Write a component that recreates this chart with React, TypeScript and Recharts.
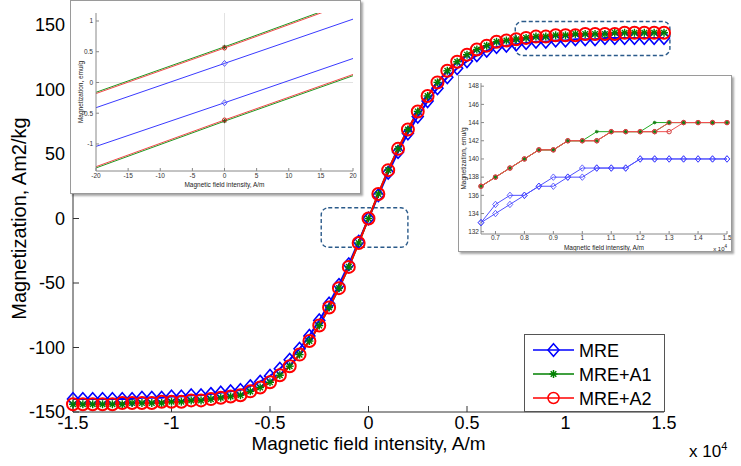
import React from "react";
import { LineChart, Line, XAxis, YAxis, ReferenceArea, ReferenceLine } from "recharts";

const FONT = "'Liberation Sans', Arial, Helvetica, sans-serif";
const BLUE = "#0000ff";
const GREEN = "#008000";
const RED = "#ff0000";

// main plot, field in units of 1e4 A/m
const field = [
  -1.5, -1.45, -1.4, -1.35, -1.3, -1.25, -1.2, -1.15, -1.1, -1.05, -1, -0.95, -0.9, -0.85, -0.8, -0.75,
  -0.7, -0.65, -0.6, -0.55, -0.5, -0.45, -0.4, -0.35, -0.3, -0.25, -0.2, -0.15, -0.1, -0.05, 0,
  0.05, 0.1, 0.15, 0.2, 0.25, 0.3, 0.35, 0.4, 0.45, 0.5, 0.55, 0.6, 0.65, 0.7, 0.75, 0.8, 0.85,
  0.9, 0.95, 1, 1.05, 1.1, 1.15, 1.2, 1.25, 1.3, 1.35, 1.4, 1.45, 1.5,
];
const mre = [
  -140, -140, -140, -140, -140, -140, -140, -139, -139, -139, -138, -138, -137, -137, -136, -135,
  -134, -133, -130, -126.5, -122, -116.5, -109.5, -101, -91, -79, -66, -51.5, -35.5, -18, 0,
  18, 35.5, 51.5, 66, 79, 91, 101, 109.5, 116.5, 122, 126.5, 130, 133, 134, 135, 136, 137,
  137, 138, 138, 139, 139, 139, 140, 140, 140, 140, 140, 140, 140,
];
const mreA1 = [
  -144, -144, -144, -144, -144, -144, -143, -143, -143, -143, -142, -142, -141, -141, -140, -139,
  -138, -137, -134, -131, -127, -121.5, -114.5, -105.5, -95, -83, -69, -54, -37.5, -19, 0,
  19, 37.5, 54, 69, 83, 95, 105.5, 114.5, 121.5, 127, 131, 134, 137, 138, 139, 140, 141,
  141, 142, 142, 143, 143, 143, 143, 144, 144, 144, 144, 144, 144,
];
const mreA2 = [
  -144, -144, -144, -144, -144, -143, -143, -143, -143, -142, -142, -142, -141, -141, -140, -139,
  -138, -137, -134, -131, -127, -121.5, -114.5, -105.5, -95, -83, -69, -54, -37.5, -19, 0,
  19, 37.5, 54, 69, 83, 95, 105.5, 114.5, 121.5, 127, 131, 134, 137, 138, 139, 140, 141,
  141, 142, 142, 142, 143, 143, 143, 143, 144, 144, 144, 144, 144,
];
const mainXTicks = [-1.5, -1, -0.5, 0, 0.5, 1, 1.5];
const mainYTicks = [-150, -100, -50, 0, 50, 100, 150];

// zoom boxes drawn on the main plot
const centerBox = { x1: -0.24, x2: 0.2, y1: -22.3, y2: 8.3 };
const satBox = { x1: 0.745, x2: 1.53, y1: 126.4, y2: 152.7 };

// left inset: around zero field, A/m
const lowField = [-20, 0, 20];
const lowMreUp = [-1.04, -0.33, 0.39];
const lowMreDown = [-0.41, 0.31, 1.03];
const lowA1Up = [-1.39, -0.63, 0.11];
const lowA1Down = [-0.16, 0.58, 1.34];
const lowA2Up = [-1.37, -0.61, 0.13];
const lowA2Down = [-0.18, 0.56, 1.32];
const lowXTicks = [-20, -15, -10, -5, 0, 5, 10, 15, 20];
const lowYTicks = [-1, -0.5, 0, 0.5, 1];

// right inset: saturation region, 1e4 A/m
const highField = [0.65, 0.7, 0.75, 0.8, 0.85, 0.9, 0.95, 1, 1.05, 1.1, 1.15, 1.2, 1.25, 1.3, 1.35, 1.4, 1.45, 1.5];
const highMreUp = [133, 134, 135, 136, 137, 137, 138, 138, 139, 139, 139, 140, 140, 140, 140, 140, 140, 140];
const highMreDown = [133, 135, 136, 136, 137, 138, 138, 139, 139, 139, 139, 140, 140, 140, 140, 140, 140, 140];
const highA1Up = [137, 138, 139, 140, 141, 141, 142, 142, 143, 143, 143, 143, 144, 144, 144, 144, 144, 144];
const highA1Down = [137, 138, 139, 140, 141, 141, 142, 142, 142, 143, 143, 143, 143, 144, 144, 144, 144, 144];
const highA2Up = [137, 138, 139, 140, 141, 141, 142, 142, 142, 143, 143, 143, 143, 144, 144, 144, 144, 144];
const highA2Down = [137, 138, 139, 140, 141, 141, 142, 142, 142, 143, 143, 143, 143, 143, 144, 144, 144, 144];
const highXTicks = [0.7, 0.8, 0.9, 1, 1.1, 1.2, 1.3, 1.4, 1.5];
const highYTicks = [132, 134, 136, 138, 140, 142, 144, 146, 148];

const mainRows = field.map((h, i) => ({ h, mre: mre[i], a1: mreA1[i], a2: mreA2[i] }));
const lowRows = lowField.map((h, i) => ({
  h, mreU: lowMreUp[i], mreD: lowMreDown[i], a1U: lowA1Up[i], a1D: lowA1Down[i], a2U: lowA2Up[i], a2D: lowA2Down[i],
}));
const highRows = highField.map((h, i) => ({
  h, mreU: highMreUp[i], mreD: highMreDown[i], a1U: highA1Up[i], a1D: highA1Down[i], a2U: highA2Up[i], a2D: highA2Down[i],
}));

type Kind = "diamond" | "star" | "circle";

function Marker({ kind, cx, cy, s, color, sw }: { kind: Kind; cx: number; cy: number; s: number; color: string; sw: number }) {
  if (kind === "diamond") {
    return (
      <path
        d={`M${cx},${cy - s * 1.15}L${cx + s},${cy}L${cx},${cy + s * 1.15}L${cx - s},${cy}Z`}
        fill="none"
        stroke={color}
        strokeWidth={sw}
      />
    );
  }
  if (kind === "star") {
    const d = s * 0.7;
    return (
      <g stroke={color} strokeWidth={sw}>
        <line x1={cx - s} y1={cy} x2={cx + s} y2={cy} />
        <line x1={cx} y1={cy - s} x2={cx} y2={cy + s} />
        <line x1={cx - d} y1={cy - d} x2={cx + d} y2={cy + d} />
        <line x1={cx - d} y1={cy + d} x2={cx + d} y2={cy - d} />
      </g>
    );
  }
  return <circle cx={cx} cy={cy} r={s} fill="none" stroke={color} strokeWidth={sw} />;
}

const dotOf = (kind: Kind, s: number, color: string, sw: number, onlyZero = false) => (p: any) => {
  const key = `${kind}-${color}-${p.index}`;
  if (p.cx == null || p.cy == null || (onlyZero && p.payload.h !== 0)) return <g key={key} />;
  return (
    <g key={key}>
      <Marker kind={kind} cx={p.cx} cy={p.cy} s={s} color={color} sw={sw} />
    </g>
  );
};

const dashedBox = (p: any) => (
  <rect
    x={p.x}
    y={p.y}
    width={p.width}
    height={p.height}
    rx={7}
    fill="none"
    stroke="#2a5a8a"
    strokeWidth={1.4}
    strokeDasharray="4 2.5"
  />
);

const insetBox: React.CSSProperties = {
  position: "absolute",
  boxSizing: "border-box",
  background: "#fff",
  border: "1px solid #9a9a9a",
  boxShadow: "2px 2px 2px rgba(0,0,0,0.35)",
};

const smallTick = { fill: "#333", fontSize: 6.5 };
const smallAxis = { stroke: "#888" };

function LowInset() {
  return (
    <div style={{ ...insetBox, left: 70, top: 0, width: 291, height: 194 }}>
      <LineChart width={289} height={192} data={lowRows} margin={{ top: 12, right: 7, bottom: 0, left: 0 }} style={{ fontFamily: FONT }}>
        <XAxis xAxisId="b" dataKey="h" type="number" domain={[-20, 20]} ticks={lowXTicks} interval={0} height={22}
          tickSize={-3} tickMargin={5} axisLine={smallAxis} tickLine={smallAxis} tick={smallTick}
          label={{ value: "Magnetic field intensity, A/m", position: "center", dy: 3, fontSize: 6.5, fill: "#222" }} />
        <XAxis xAxisId="t" orientation="top" dataKey="h" type="number" domain={[-20, 20]} ticks={lowXTicks} height={0}
          tickSize={-3} tick={false} axisLine={smallAxis} tickLine={smallAxis} />
        <YAxis yAxisId="l" type="number" domain={[-1.44, 1.13]} ticks={lowYTicks} width={25} allowDataOverflow
          tickSize={-3} tickMargin={6} axisLine={smallAxis} tickLine={smallAxis} tick={smallTick}
          label={{ value: "Magnetization, emu/g", angle: -90, position: "center", dx: -3, fontSize: 6.5, fill: "#222" }} />
        <YAxis yAxisId="r" orientation="right" type="number" domain={[-1.44, 1.13]} ticks={lowYTicks} width={0} allowDataOverflow
          tickSize={-3} tick={false} axisLine={smallAxis} tickLine={smallAxis} />
        <ReferenceLine xAxisId="b" yAxisId="l" x={0} stroke="#e2e2e2" />
        <ReferenceLine xAxisId="b" yAxisId="l" y={0} stroke="#e2e2e2" />
        <Line xAxisId="b" yAxisId="l" dataKey="mreU" stroke="#3a3aff" strokeWidth={1} isAnimationActive={false} dot={dotOf("diamond", 2.6, "#3a3aff", 0.8, true)} activeDot={false} />
        <Line xAxisId="b" yAxisId="l" dataKey="mreD" stroke="#3a3aff" strokeWidth={1} isAnimationActive={false} dot={dotOf("diamond", 2.6, "#3a3aff", 0.8, true)} activeDot={false} />
        <Line xAxisId="b" yAxisId="l" dataKey="a1U" stroke="#1f991f" strokeWidth={1} isAnimationActive={false} dot={dotOf("star", 2, "#1a5a1a", 1, true)} activeDot={false} />
        <Line xAxisId="b" yAxisId="l" dataKey="a1D" stroke="#1f991f" strokeWidth={1} isAnimationActive={false} dot={dotOf("star", 2, "#1a5a1a", 1, true)} activeDot={false} />
        <Line xAxisId="b" yAxisId="l" dataKey="a2U" stroke="#f04a4a" strokeWidth={1} isAnimationActive={false} dot={dotOf("circle", 2, "#c03020", 1, true)} activeDot={false} />
        <Line xAxisId="b" yAxisId="l" dataKey="a2D" stroke="#f04a4a" strokeWidth={1} isAnimationActive={false} dot={dotOf("circle", 2, "#c03020", 1, true)} activeDot={false} />
      </LineChart>
    </div>
  );
}

function HighInset() {
  return (
    <div style={{ ...insetBox, left: 458, top: 75, width: 274, height: 177 }}>
      <LineChart width={272} height={175} data={highRows} margin={{ top: 7, right: 4, bottom: 0, left: 0 }} style={{ fontFamily: FONT }}>
        <XAxis xAxisId="b" dataKey="h" type="number" domain={[0.65, 1.5]} ticks={highXTicks} interval={0} height={17}
          tickSize={-3} tickMargin={4} axisLine={smallAxis} tickLine={smallAxis} tick={smallTick}
          label={{ value: "Magnetic field intensity, A/m", position: "center", dy: 5, fontSize: 6.5, fill: "#222" }} />
        <XAxis xAxisId="t" orientation="top" dataKey="h" type="number" domain={[0.65, 1.5]} ticks={highXTicks} height={0}
          tickSize={-3} tick={false} axisLine={smallAxis} tickLine={smallAxis} />
        <YAxis yAxisId="l" type="number" domain={[131.75, 148.35]} ticks={highYTicks} width={22} allowDataOverflow
          tickSize={-3} tickMargin={5} axisLine={smallAxis} tickLine={smallAxis} tick={smallTick}
          label={{ value: "Magnetization, emu/g", angle: -90, position: "center", dx: -6, fontSize: 6.5, fill: "#222" }} />
        <YAxis yAxisId="r" orientation="right" type="number" domain={[131.75, 148.35]} ticks={highYTicks} width={0} allowDataOverflow
          tickSize={-3} tick={false} axisLine={smallAxis} tickLine={smallAxis} />
        <Line xAxisId="b" yAxisId="l" dataKey="mreU" stroke="#5050ff" strokeWidth={1} isAnimationActive={false} dot={dotOf("diamond", 2.8, "#4040ff", 0.8)} activeDot={false} />
        <Line xAxisId="b" yAxisId="l" dataKey="mreD" stroke="#5050ff" strokeWidth={1} isAnimationActive={false} dot={dotOf("diamond", 2.8, "#4040ff", 0.8)} activeDot={false} />
        <Line xAxisId="b" yAxisId="l" dataKey="a1U" stroke="#22aa22" strokeWidth={1} isAnimationActive={false} dot={dotOf("star", 1.8, "#158015", 1)} activeDot={false} />
        <Line xAxisId="b" yAxisId="l" dataKey="a1D" stroke="#22aa22" strokeWidth={1} isAnimationActive={false} dot={dotOf("star", 1.8, "#158015", 1)} activeDot={false} />
        <Line xAxisId="b" yAxisId="l" dataKey="a2U" stroke="#f05050" strokeWidth={1} isAnimationActive={false} dot={dotOf("circle", 2.2, "#d04040", 1)} activeDot={false} />
        <Line xAxisId="b" yAxisId="l" dataKey="a2D" stroke="#f05050" strokeWidth={1} isAnimationActive={false} dot={dotOf("circle", 2.2, "#d04040", 1)} activeDot={false} />
      </LineChart>
      <div style={{ position: "absolute", right: 4, bottom: -1, fontSize: 6, fontFamily: FONT, color: "#222" }}>
        x 10<sup style={{ fontSize: 4.5 }}>4</sup>
      </div>
    </div>
  );
}

const legendItems: { name: string; kind: Kind; color: string }[] = [
  { name: "MRE", kind: "diamond", color: BLUE },
  { name: "MRE+A1", kind: "star", color: GREEN },
  { name: "MRE+A2", kind: "circle", color: RED },
];

function LegendBox() {
  return (
    <div style={{ position: "absolute", left: 524, top: 334, width: 141, height: 78, boxSizing: "border-box", border: "1px solid #555", background: "#fff" }}>
      <svg width={139} height={76} style={{ position: "absolute", left: 0, top: 0 }}>
        {legendItems.map((it, i) => {
          const cy = 15 + i * 24;
          return (
            <g key={it.name}>
              <line x1={8} y1={cy} x2={49} y2={cy} stroke={it.color} strokeWidth={1.5} />
              <Marker kind={it.kind} cx={28.5} cy={cy} s={it.kind === "star" ? 4 : 5.5} color={it.color} sw={1.5} />
              <text x={54} y={cy + 6.5} fontSize={18} fontFamily={FONT} fill="#000">{it.name}</text>
            </g>
          );
        })}
      </svg>
    </div>
  );
}

export default function App() {
  return (
    <div style={{ position: "absolute", left: 0, top: 0, width: 741, height: 466, background: "#fff", overflow: "hidden" }}>
      <LineChart width={741} height={466} data={mainRows} margin={{ top: 25, right: 77, bottom: 0, left: 0 }} style={{ fontFamily: FONT }}>
        <XAxis xAxisId="b" dataKey="h" type="number" domain={[-1.5, 1.5]} ticks={mainXTicks} interval={0} height={54}
          tickSize={-6} tickMargin={10} axisLine={{ stroke: "#333" }} tickLine={{ stroke: "#333" }} tick={{ fill: "#000", fontSize: 18 }}
          label={{ value: "Magnetic field intensity, A/m", position: "center", dy: 4, fontSize: 19, fill: "#000" }} />
        <XAxis xAxisId="t" orientation="top" dataKey="h" type="number" domain={[-1.5, 1.5]} ticks={mainXTicks} height={0}
          tickSize={-6} tick={false} axisLine={{ stroke: "#333" }} tickLine={{ stroke: "#333" }} />
        <YAxis yAxisId="l" type="number" domain={[-150, 150]} ticks={mainYTicks} width={73}
          tickSize={-6} tickMargin={14} axisLine={{ stroke: "#333" }} tickLine={{ stroke: "#333" }} tick={{ fill: "#000", fontSize: 18 }}
          label={{ value: "Magnetization, Am2/kg", angle: -90, position: "center", dx: -18, fontSize: 20, fill: "#000" }} />
        <YAxis yAxisId="r" orientation="right" type="number" domain={[-150, 150]} ticks={mainYTicks} width={0}
          tickSize={-6} tick={false} axisLine={{ stroke: "#333" }} tickLine={{ stroke: "#333" }} />
        <ReferenceArea xAxisId="b" yAxisId="l" {...centerBox} ifOverflow="visible" shape={dashedBox} />
        <ReferenceArea xAxisId="b" yAxisId="l" {...satBox} ifOverflow="visible" shape={dashedBox} />
        <Line xAxisId="b" yAxisId="l" dataKey="mre" stroke={BLUE} strokeWidth={2} isAnimationActive={false} dot={dotOf("diamond", 5.5, BLUE, 1.6)} activeDot={false} />
        <Line xAxisId="b" yAxisId="l" dataKey="a1" stroke={GREEN} strokeWidth={2} isAnimationActive={false} dot={dotOf("star", 4, GREEN, 1.4)} activeDot={false} />
        <Line xAxisId="b" yAxisId="l" dataKey="a2" stroke={RED} strokeWidth={2} isAnimationActive={false} dot={dotOf("circle", 6, RED, 2)} activeDot={false} />
      </LineChart>
      <div style={{ position: "absolute", left: 689, top: 440, fontSize: 17, fontFamily: FONT, color: "#000" }}>
        x 10<sup style={{ fontSize: 11 }}>4</sup>
      </div>
      <LegendBox />
      <LowInset />
      <HighInset />
    </div>
  );
}
